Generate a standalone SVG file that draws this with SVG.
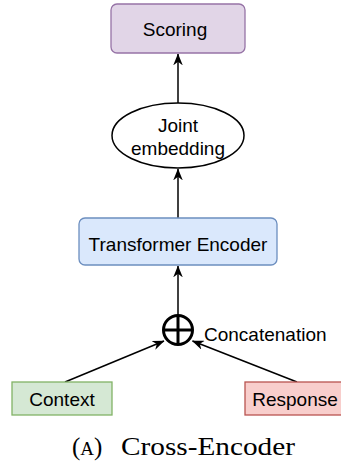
<svg xmlns="http://www.w3.org/2000/svg" width="341" height="469" viewBox="0 0 341 469">
<style>
.lbl{font-family:"Liberation Sans",Arial,sans-serif;font-size:19px;fill:#000;}
.mid{text-anchor:middle;}
.edge{stroke:#000;stroke-width:1.5;fill:none;}
.cap{font-family:"Liberation Serif","Times New Roman",serif;font-size:25px;fill:#000;}
</style>
<defs>
<marker id="arr" viewBox="0 0 10 8" markerWidth="12" markerHeight="9.6" refX="9.5" refY="4" orient="auto" markerUnits="userSpaceOnUse">
<path d="M0,0 L10,4 L0,8 L3,4 Z" fill="#000"/>
</marker>
</defs>
<rect width="341" height="469" fill="#fff"/>
<g id="connectors">
<line class="edge" x1="178" y1="103" x2="178" y2="54" marker-end="url(#arr)"/>
<line class="edge" x1="178" y1="218" x2="178" y2="169" marker-end="url(#arr)"/>
<line class="edge" x1="178" y1="315" x2="178" y2="266" marker-end="url(#arr)"/>
<line class="edge" x1="65" y1="382" x2="164" y2="341" marker-end="url(#arr)"/>
<line class="edge" x1="297" y1="382" x2="192.5" y2="341" marker-end="url(#arr)"/>
</g>
<g id="scoring">
<rect x="111" y="4" width="134" height="49" rx="6" fill="#e1d5e7" stroke="#9673a6" stroke-width="1.3"/>
<text class="lbl mid" x="175" y="36">Scoring</text>
</g>
<g id="joint-embedding">
<ellipse cx="178" cy="135.5" rx="66" ry="32.5" fill="#fff" stroke="#000" stroke-width="1.5"/>
<text class="lbl mid" x="178" y="132">Joint</text>
<text class="lbl mid" x="178" y="155">embedding</text>
</g>
<g id="transformer-encoder">
<rect x="79" y="218" width="198" height="47" rx="6" fill="#dae8fc" stroke="#6c8ebf" stroke-width="1.3"/>
<text class="lbl mid" x="178" y="251">Transformer Encoder</text>
</g>
<g id="concatenation">
<circle cx="178" cy="330" r="14.5" fill="#fff" stroke="#000" stroke-width="3"/>
<line x1="163.5" y1="330" x2="192.5" y2="330" stroke="#000" stroke-width="3"/>
<line x1="178" y1="315.5" x2="178" y2="344.5" stroke="#000" stroke-width="3"/>
<text class="lbl" x="204" y="341">Concatenation</text>
</g>
<g id="context">
<rect x="12" y="382" width="100" height="33" fill="#d5e8d4" stroke="#82b366" stroke-width="1.3"/>
<text class="lbl mid" x="62" y="406">Context</text>
</g>
<g id="response">
<rect x="245" y="382" width="100" height="33" fill="#f8cecc" stroke="#b85450" stroke-width="1.3"/>
<text class="lbl mid" x="295" y="406">Response</text>
</g>
<g id="caption">
<text class="cap" x="72" y="455">(<tspan font-size="19">A</tspan>)</text>
<text class="cap" x="121" y="455" textLength="174" lengthAdjust="spacingAndGlyphs">Cross-Encoder</text>
</g>
</svg>
